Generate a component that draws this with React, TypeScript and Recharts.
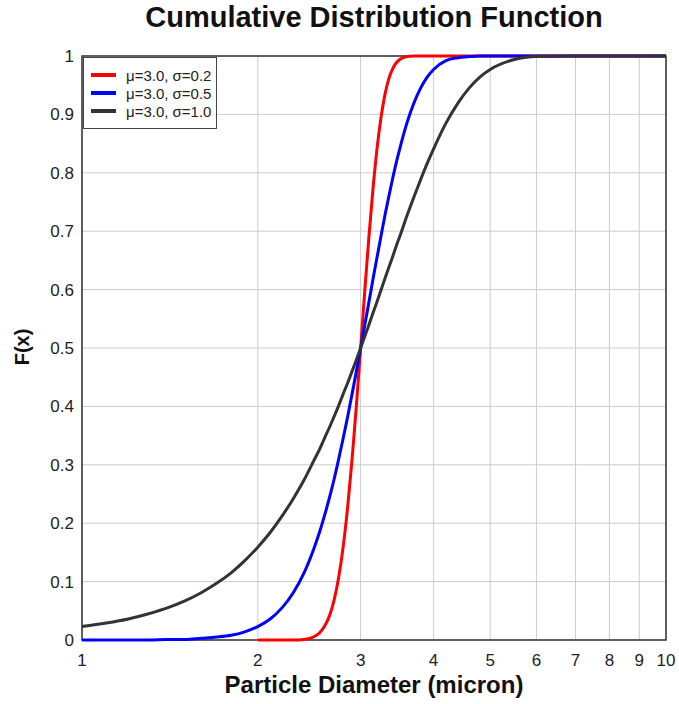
import React from "react";
import {
  CartesianGrid,
  Legend,
  Line,
  LineChart,
  ReferenceArea,
  XAxis,
  YAxis,
} from "recharts";

// particle diameters (micron) where the curves were read
const diameters = [
  1, 1.1, 1.2, 1.3, 1.4, 1.5, 1.6, 1.7, 1.8, 1.9, 2, 2.1, 2.2, 2.3, 2.4, 2.5,
  2.55, 2.6, 2.65, 2.7, 2.75, 2.8, 2.85, 2.9, 2.95, 3, 3.05, 3.1, 3.15, 3.2,
  3.25, 3.3, 3.35, 3.4, 3.45, 3.5, 3.6, 3.7, 3.8, 3.9, 4, 4.2, 4.4, 4.6, 4.8,
  5, 5.5, 6, 7, 8, 9, 10,
];

// sigma = 0.2 (red) - starts at 2 micron
const cdfSigma02 = [
  null, null, null, null, null, null, null, null, null, null, 0, 0, 0, 0,
  0.001, 0.006, 0.012, 0.023, 0.04, 0.067, 0.106, 0.159, 0.227, 0.309, 0.401,
  0.5, 0.599, 0.691, 0.773, 0.841, 0.894, 0.933, 0.96, 0.977, 0.988, 0.994,
  0.999, 1, 1, 1, 1, 1, 1, 1, 1, 1, 1, 1, 1, 1, 1, 1,
];

// sigma = 0.5 (blue)
const cdfSigma05 = [
  0, 0, 0, 0, 0.001, 0.001, 0.003, 0.005, 0.008, 0.014, 0.023, 0.036, 0.055,
  0.081, 0.115, 0.159, 0.184, 0.212, 0.242, 0.274, 0.309, 0.345, 0.382, 0.421,
  0.46, 0.5, 0.54, 0.579, 0.618, 0.655, 0.691, 0.726, 0.758, 0.788, 0.816,
  0.841, 0.885, 0.919, 0.945, 0.964, 0.977, 0.992, 0.997, 0.999, 1, 1, 1, 1, 1,
  1, 1, 1,
];

// sigma = 1.0 (black)
const cdfSigma10 = [
  0.023, 0.029, 0.036, 0.045, 0.055, 0.067, 0.081, 0.097, 0.115, 0.136, 0.159,
  0.184, 0.212, 0.242, 0.274, 0.309, 0.326, 0.345, 0.363, 0.382, 0.401, 0.421,
  0.44, 0.46, 0.48, 0.5, 0.52, 0.54, 0.56, 0.579, 0.599, 0.618, 0.637, 0.655,
  0.674, 0.691, 0.726, 0.758, 0.788, 0.816, 0.841, 0.885, 0.919, 0.945, 0.964,
  0.977, 0.994, 0.999, 1, 1, 1, 1,
];

const xTicks = [1, 2, 3, 4, 5, 6, 7, 8, 9, 10];
const yTicks = [0, 0.1, 0.2, 0.3, 0.4, 0.5, 0.6, 0.7, 0.8, 0.9, 1];

const series = [
  { key: "s02", name: "\u03bc=3.0, \u03c3=0.2", color: "#ff0000" },
  { key: "s05", name: "\u03bc=3.0, \u03c3=0.5", color: "#0000ff" },
  { key: "s10", name: "\u03bc=3.0, \u03c3=1.0", color: "#333333" },
];

const data = diameters.map((x, i) => ({
  x,
  s02: cdfSigma02[i],
  s05: cdfSigma05[i],
  s10: cdfSigma10[i],
}));

const FONT = '"Liberation Sans", Arial, sans-serif';

const LegendBox = () => (
  <div
    style={{
      width: 134,
      height: 72,
      boxSizing: "border-box",
      border: "1px solid #444",
      background: "#fff",
      paddingTop: 8,
      fontFamily: FONT,
    }}
  >
    {series.map((s) => (
      <div
        key={s.key}
        style={{ display: "flex", alignItems: "center", height: 18 }}
      >
        <span
          style={{
            display: "inline-block",
            width: 25,
            height: 4,
            marginLeft: 7,
            marginRight: 10,
            background: s.color,
          }}
        />
        <span style={{ fontSize: 15, color: "#222" }}>{s.name}</span>
      </div>
    ))}
  </div>
);

export default function App() {
  return (
    <div
      style={{
        position: "absolute",
        left: 0,
        top: 0,
        width: 679,
        height: 704,
        background: "#fff",
        fontFamily: FONT,
      }}
    >
      <LineChart
        width={679}
        height={704}
        data={data}
        margin={{ top: 56, right: 13, left: 0, bottom: 0 }}
      >
        <CartesianGrid stroke="#cccccc" />
        <XAxis
          dataKey="x"
          type="number"
          scale="log"
          domain={[1, 10]}
          ticks={xTicks}
          interval={0}
          height={64}
          tickLine={false}
          axisLine={false}
          tickMargin={8}
          tick={{ fontSize: 17, fill: "#222", fontFamily: FONT }}
        />
        <YAxis
          type="number"
          domain={[0, 1]}
          ticks={yTicks}
          interval={0}
          width={82}
          tickLine={false}
          axisLine={false}
          tick={{ fontSize: 17, fill: "#222", fontFamily: FONT }}
        />
        <ReferenceArea
          x1={1}
          x2={10}
          y1={0}
          y2={1}
          fill="none"
          stroke="#333"
          strokeWidth={1.5}
        />
        {series.map((s) => (
          <Line
            key={s.key}
            dataKey={s.key}
            name={s.name}
            type="monotone"
            stroke={s.color}
            strokeWidth={3}
            dot={false}
            isAnimationActive={false}
          />
        ))}
        <Legend
          layout="vertical"
          align="center"
          verticalAlign="middle"
          content={() => <LegendBox />}
          wrapperStyle={{ left: 83, top: 57, width: 134 }}
        />
      </LineChart>
      <div
        style={{
          position: "absolute",
          left: 82,
          width: 584,
          top: 3,
          textAlign: "center",
          fontSize: 29,
          lineHeight: "29px",
          fontWeight: "bold",
          color: "#111",
        }}
      >
        Cumulative Distribution Function
      </div>
      <div
        style={{
          position: "absolute",
          left: 82,
          width: 584,
          top: 673,
          textAlign: "center",
          fontSize: 24,
          lineHeight: "24px",
          fontWeight: "bold",
          color: "#111",
        }}
      >
        Particle Diameter (micron)
      </div>
      <div
        style={{
          position: "absolute",
          left: 22,
          top: 347,
          transform: "translate(-50%, -50%) rotate(-90deg)",
          fontSize: 20,
          lineHeight: "20px",
          fontWeight: "bold",
          whiteSpace: "nowrap",
          color: "#111",
        }}
      >
        F(x)
      </div>
    </div>
  );
}
